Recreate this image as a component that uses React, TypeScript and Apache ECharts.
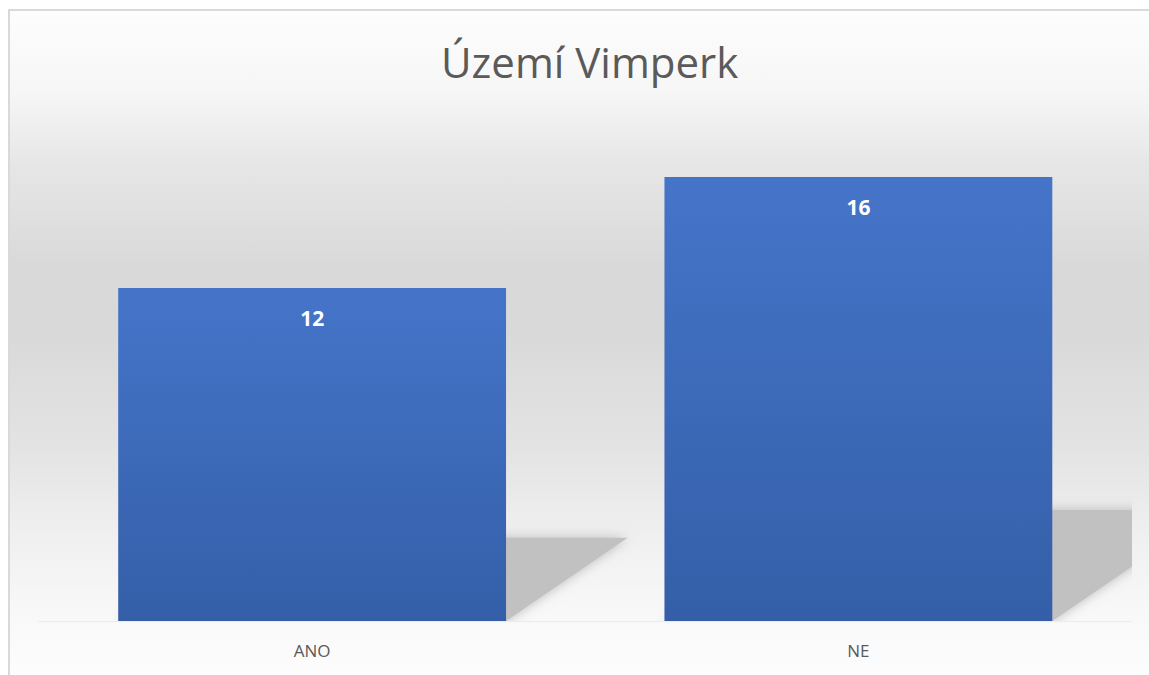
import React, { useEffect, useRef } from "react";
import * as echarts from "echarts";

const categories = ["ANO", "NE"];
const values = [12, 16];
const chartTitle = "Území Vimperk";

export default function App() {
  const ref = useRef<HTMLDivElement>(null);
  useEffect(() => {
    if (!ref.current) return;
    const chart = echarts.init(ref.current, null, { renderer: "svg" });
    const option: any = {
      animation: false,
      backgroundColor: "#ffffff",
      title: {
        text: chartTitle,
        left: 436,
        top: 35,
        textStyle: {
          fontFamily: "Open Sans",
          fontSize: 42,
          fontWeight: "normal",
          color: "#5a5a5a",
        },
      },
      graphic: [
        {
          type: "rect",
          z: -10,
          silent: true,
          shape: { x: 9, y: 10, width: 1200, height: 700 },
          style: {
            fill: new echarts.graphic.LinearGradient(0, 0, 0, 665, [
              { offset: 0, color: "#fefefe" },
              { offset: 0.14, color: "#f6f6f6" },
              { offset: 0.25, color: "#e6e6e6" },
              { offset: 0.4, color: "#d9d9d9" },
              { offset: 0.5, color: "#d9d9d9" },
              { offset: 0.67, color: "#e3e3e3" },
              { offset: 0.8, color: "#efefef" },
              { offset: 0.92, color: "#f8f8f8" },
              { offset: 1, color: "#fcfcfc" },
            ], true),
          },
        },
        {
          type: "polyline",
          z: -9,
          silent: true,
          shape: { points: [[9, 700], [9, 10], [1200, 10]] },
          style: { stroke: "#d9d9d9", lineWidth: 2, fill: "none" },
        },
      ],
      grid: { left: 39, right: 17.5, top: 66, bottom: 54 },
      xAxis: {
        type: "category",
        data: categories,
        axisTick: { show: false },
        axisLine: { show: true, lineStyle: { color: "#ececec", width: 1 } },
        axisLabel: {
          margin: 21,
          fontFamily: "Open Sans",
          fontSize: 17,
          color: "#595959",
        },
      },
      yAxis: {
        type: "value",
        min: 0,
        max: 20,
        show: false,
        splitLine: { show: false },
      },
      series: [
        {
          type: "custom",
          z: 1,
          silent: true,
          clip: true,
          data: values.map((v, i) => [i, v]),
          renderItem: (params: any, api: any) => {
            const i = api.value(0);
            const v = api.value(1);
            const base = api.coord([i, 0]);
            const top = api.coord([i, v]);
            const bw = api.size([1, 0])[0] * 0.71;
            const xl = base[0] - bw / 2;
            const xr = base[0] + bw / 2;
            const h = base[1] - top[1];
            const dy = h * 0.25;
            const dx = dy * 1.46;
            return {
              type: "polygon",
              shape: {
                points: [
                  [xl, base[1]],
                  [xr, base[1]],
                  [xr + dx, base[1] - dy],
                  [xl + dx, base[1] - dy],
                ],
              },
              style: {
                fill: "#c1c1c1",
                shadowBlur: 12,
                shadowColor: "rgba(180,180,180,0.9)",
              },
            };
          },
        },
        {
          type: "bar",
          z: 2,
          data: values,
          barWidth: "71%",
          itemStyle: {
            color: new echarts.graphic.LinearGradient(0, 0, 0, 1, [
              { offset: 0, color: "#4574c9" },
              { offset: 1, color: "#345fa8" },
            ]),
          },
          label: {
            show: true,
            position: "insideTop",
            distance: 19,
            color: "#ffffff",
            fontFamily: "Open Sans",
            fontWeight: "bold",
            fontSize: 21,
          },
        },
      ],
    };
    chart.setOption(option);
    return () => chart.dispose();
  }, []);
  return (
    <div
      ref={ref}
      style={{ position: "fixed", left: 0, top: 0, width: 1149, height: 675 }}
    />
  );
}
